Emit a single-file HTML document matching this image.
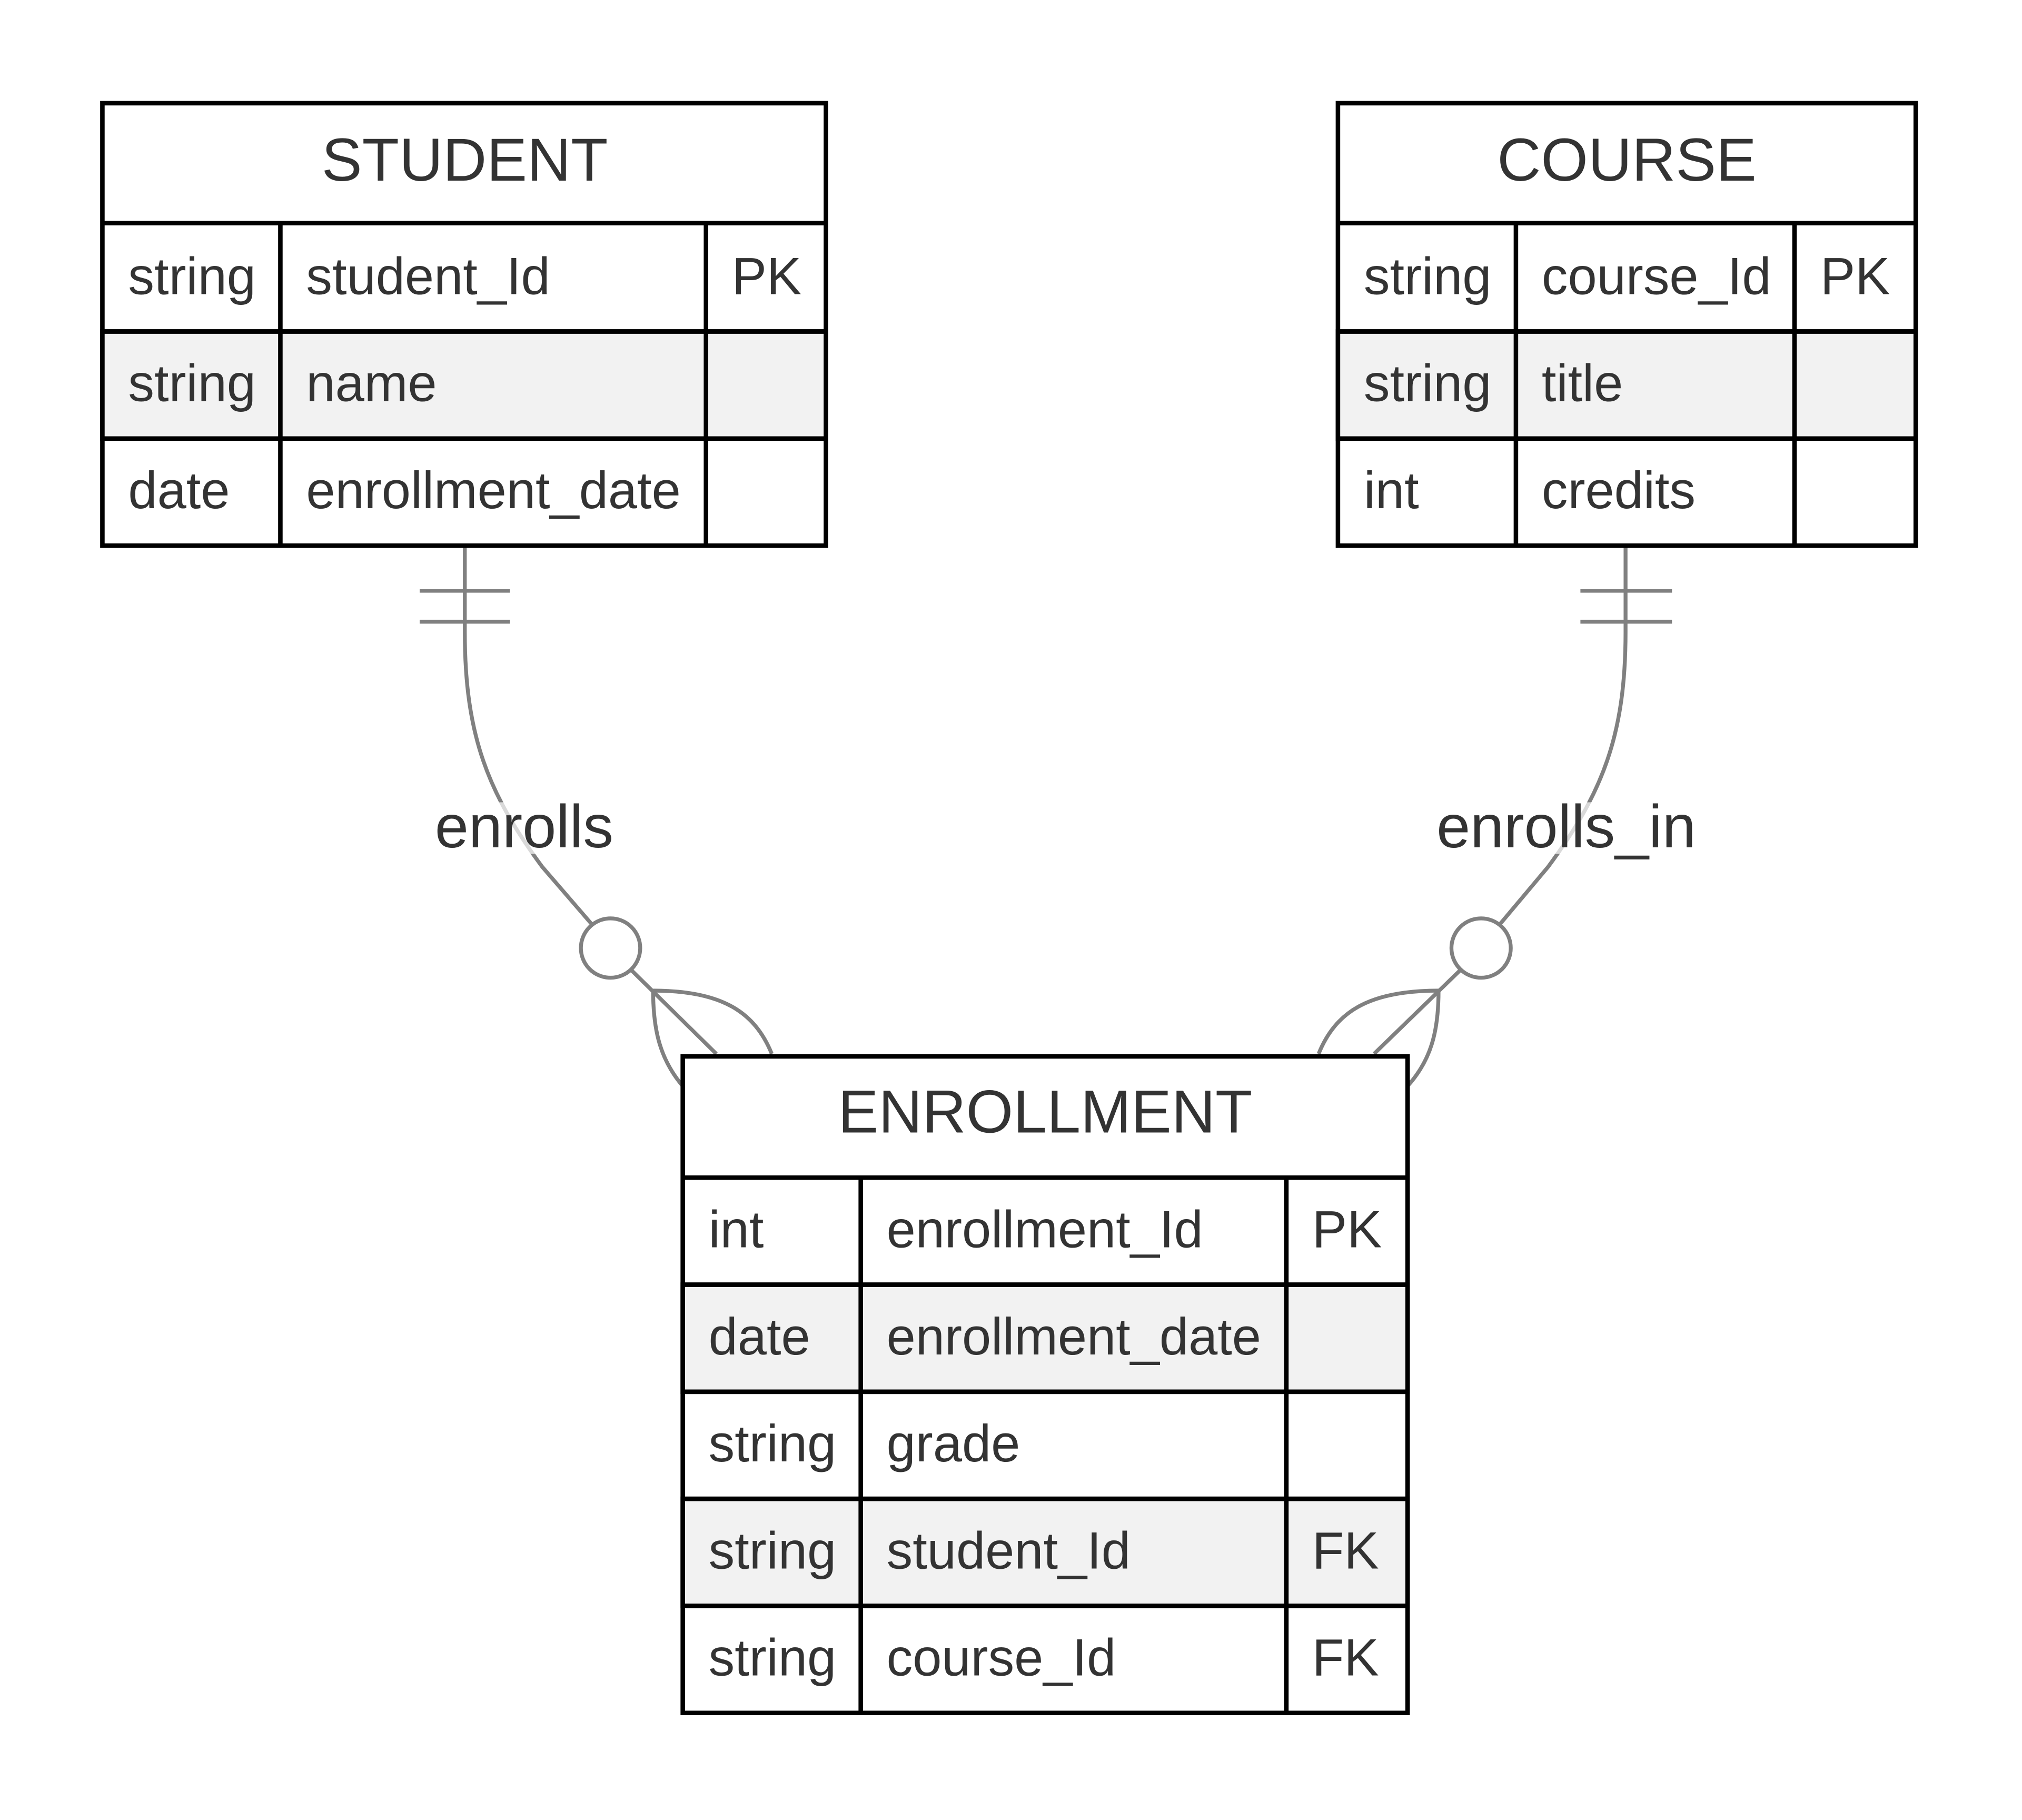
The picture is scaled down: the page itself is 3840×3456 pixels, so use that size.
<!DOCTYPE html>
<html><head><meta charset="utf-8"><style>html,body{margin:0;padding:0;background:#fff}svg{display:block}</style></head>
<body>
<svg width="3840" height="3456" viewBox="0 0 1567 1411" xmlns="http://www.w3.org/2000/svg" font-family="Liberation Sans, Arial, sans-serif" fill="#333">
<rect x="0" y="0" width="1567" height="1411" fill="#fff"/>
<!-- connectors -->
<g stroke="#808080" stroke-width="3" fill="none">
  <path d="M360,423 L360,490 C360,570 378,615 420,672 L458,716"/>
  <line x1="325" y1="458" x2="395" y2="458"/><line x1="325" y1="482" x2="395" y2="482"/>
  <circle cx="473" cy="735" r="23"/>
  <line x1="489" y1="752" x2="555" y2="817"/>
  <path d="M506,768 C506,800 512,822 529,842"/>
  <path d="M506,768 C560,768 585,785 598,817"/>
  <path d="M1260,423 L1260,490 C1260,570 1242,615 1200,672 L1163,716"/>
  <line x1="1225" y1="458" x2="1296" y2="458"/><line x1="1225" y1="482" x2="1296" y2="482"/>
  <circle cx="1148" cy="735" r="23"/>
  <line x1="1132" y1="752" x2="1065" y2="817"/>
  <path d="M1115,768 C1115,800 1109,822 1091,842"/>
  <path d="M1115,768 C1060,768 1035,785 1022,817"/>
</g>
<rect x="370" y="622" width="72" height="40" fill="#fff" opacity="0.7"/>
<rect x="1160" y="622" width="110" height="40" fill="#fff" opacity="0.7"/>
<text x="406" y="657" font-size="47" text-anchor="middle">enrolls</text>
<text x="1214" y="657" font-size="47" text-anchor="middle">enrolls_in</text>

<g stroke="#000" stroke-width="3.5">
  <!-- STUDENT -->
  <rect x="79" y="80" width="561" height="343" fill="#fff"/>
  <rect x="79" y="257" width="561" height="83" fill="#f2f2f2"/>
  <line x1="79" y1="173" x2="640" y2="173"/><line x1="79" y1="257" x2="640" y2="257"/><line x1="79" y1="340" x2="640" y2="340"/>
  <line x1="217" y1="173" x2="217" y2="423"/><line x1="547" y1="173" x2="547" y2="423"/>
  <!-- COURSE -->
  <rect x="1037" y="80" width="448" height="343" fill="#fff"/>
  <rect x="1037" y="257" width="448" height="83" fill="#f2f2f2"/>
  <line x1="1037" y1="173" x2="1485" y2="173"/><line x1="1037" y1="257" x2="1485" y2="257"/><line x1="1037" y1="340" x2="1485" y2="340"/>
  <line x1="1175" y1="173" x2="1175" y2="423"/><line x1="1391" y1="173" x2="1391" y2="423"/>
  <!-- ENROLLMENT -->
  <rect x="529" y="819" width="562" height="509" fill="#fff"/>
  <rect x="529" y="996" width="562" height="83" fill="#f2f2f2"/>
  <rect x="529" y="1162" width="562" height="83" fill="#f2f2f2"/>
  <line x1="529" y1="913" x2="1091" y2="913"/><line x1="529" y1="996" x2="1091" y2="996"/><line x1="529" y1="1079" x2="1091" y2="1079"/><line x1="529" y1="1162" x2="1091" y2="1162"/><line x1="529" y1="1245" x2="1091" y2="1245"/>
  <line x1="667" y1="913" x2="667" y2="1328"/><line x1="997" y1="913" x2="997" y2="1328"/>
</g>

<g font-size="47" text-anchor="middle">
<text x="360" y="140">STUDENT</text>
<text x="1261" y="140">COURSE</text>
<text x="810" y="878">ENROLLMENT</text>
</g>
<g font-size="40.5">
<text x="99" y="228">string</text><text x="237" y="228">student_Id</text><text x="567" y="228">PK</text>
<text x="99" y="311">string</text><text x="237" y="311">name</text>
<text x="99" y="394">date</text><text x="237" y="394">enrollment_date</text>
<text x="1057" y="228">string</text><text x="1195" y="228">course_Id</text><text x="1411" y="228">PK</text>
<text x="1057" y="311">string</text><text x="1195" y="311">title</text>
<text x="1057" y="394">int</text><text x="1195" y="394">credits</text>
<text x="549" y="967">int</text><text x="687" y="967">enrollment_Id</text><text x="1017" y="967">PK</text>
<text x="549" y="1050">date</text><text x="687" y="1050">enrollment_date</text>
<text x="549" y="1133">string</text><text x="687" y="1133">grade</text>
<text x="549" y="1216">string</text><text x="687" y="1216">student_Id</text><text x="1017" y="1216">FK</text>
<text x="549" y="1299">string</text><text x="687" y="1299">course_Id</text><text x="1017" y="1299">FK</text>
</g>
</svg>
</body></html>
